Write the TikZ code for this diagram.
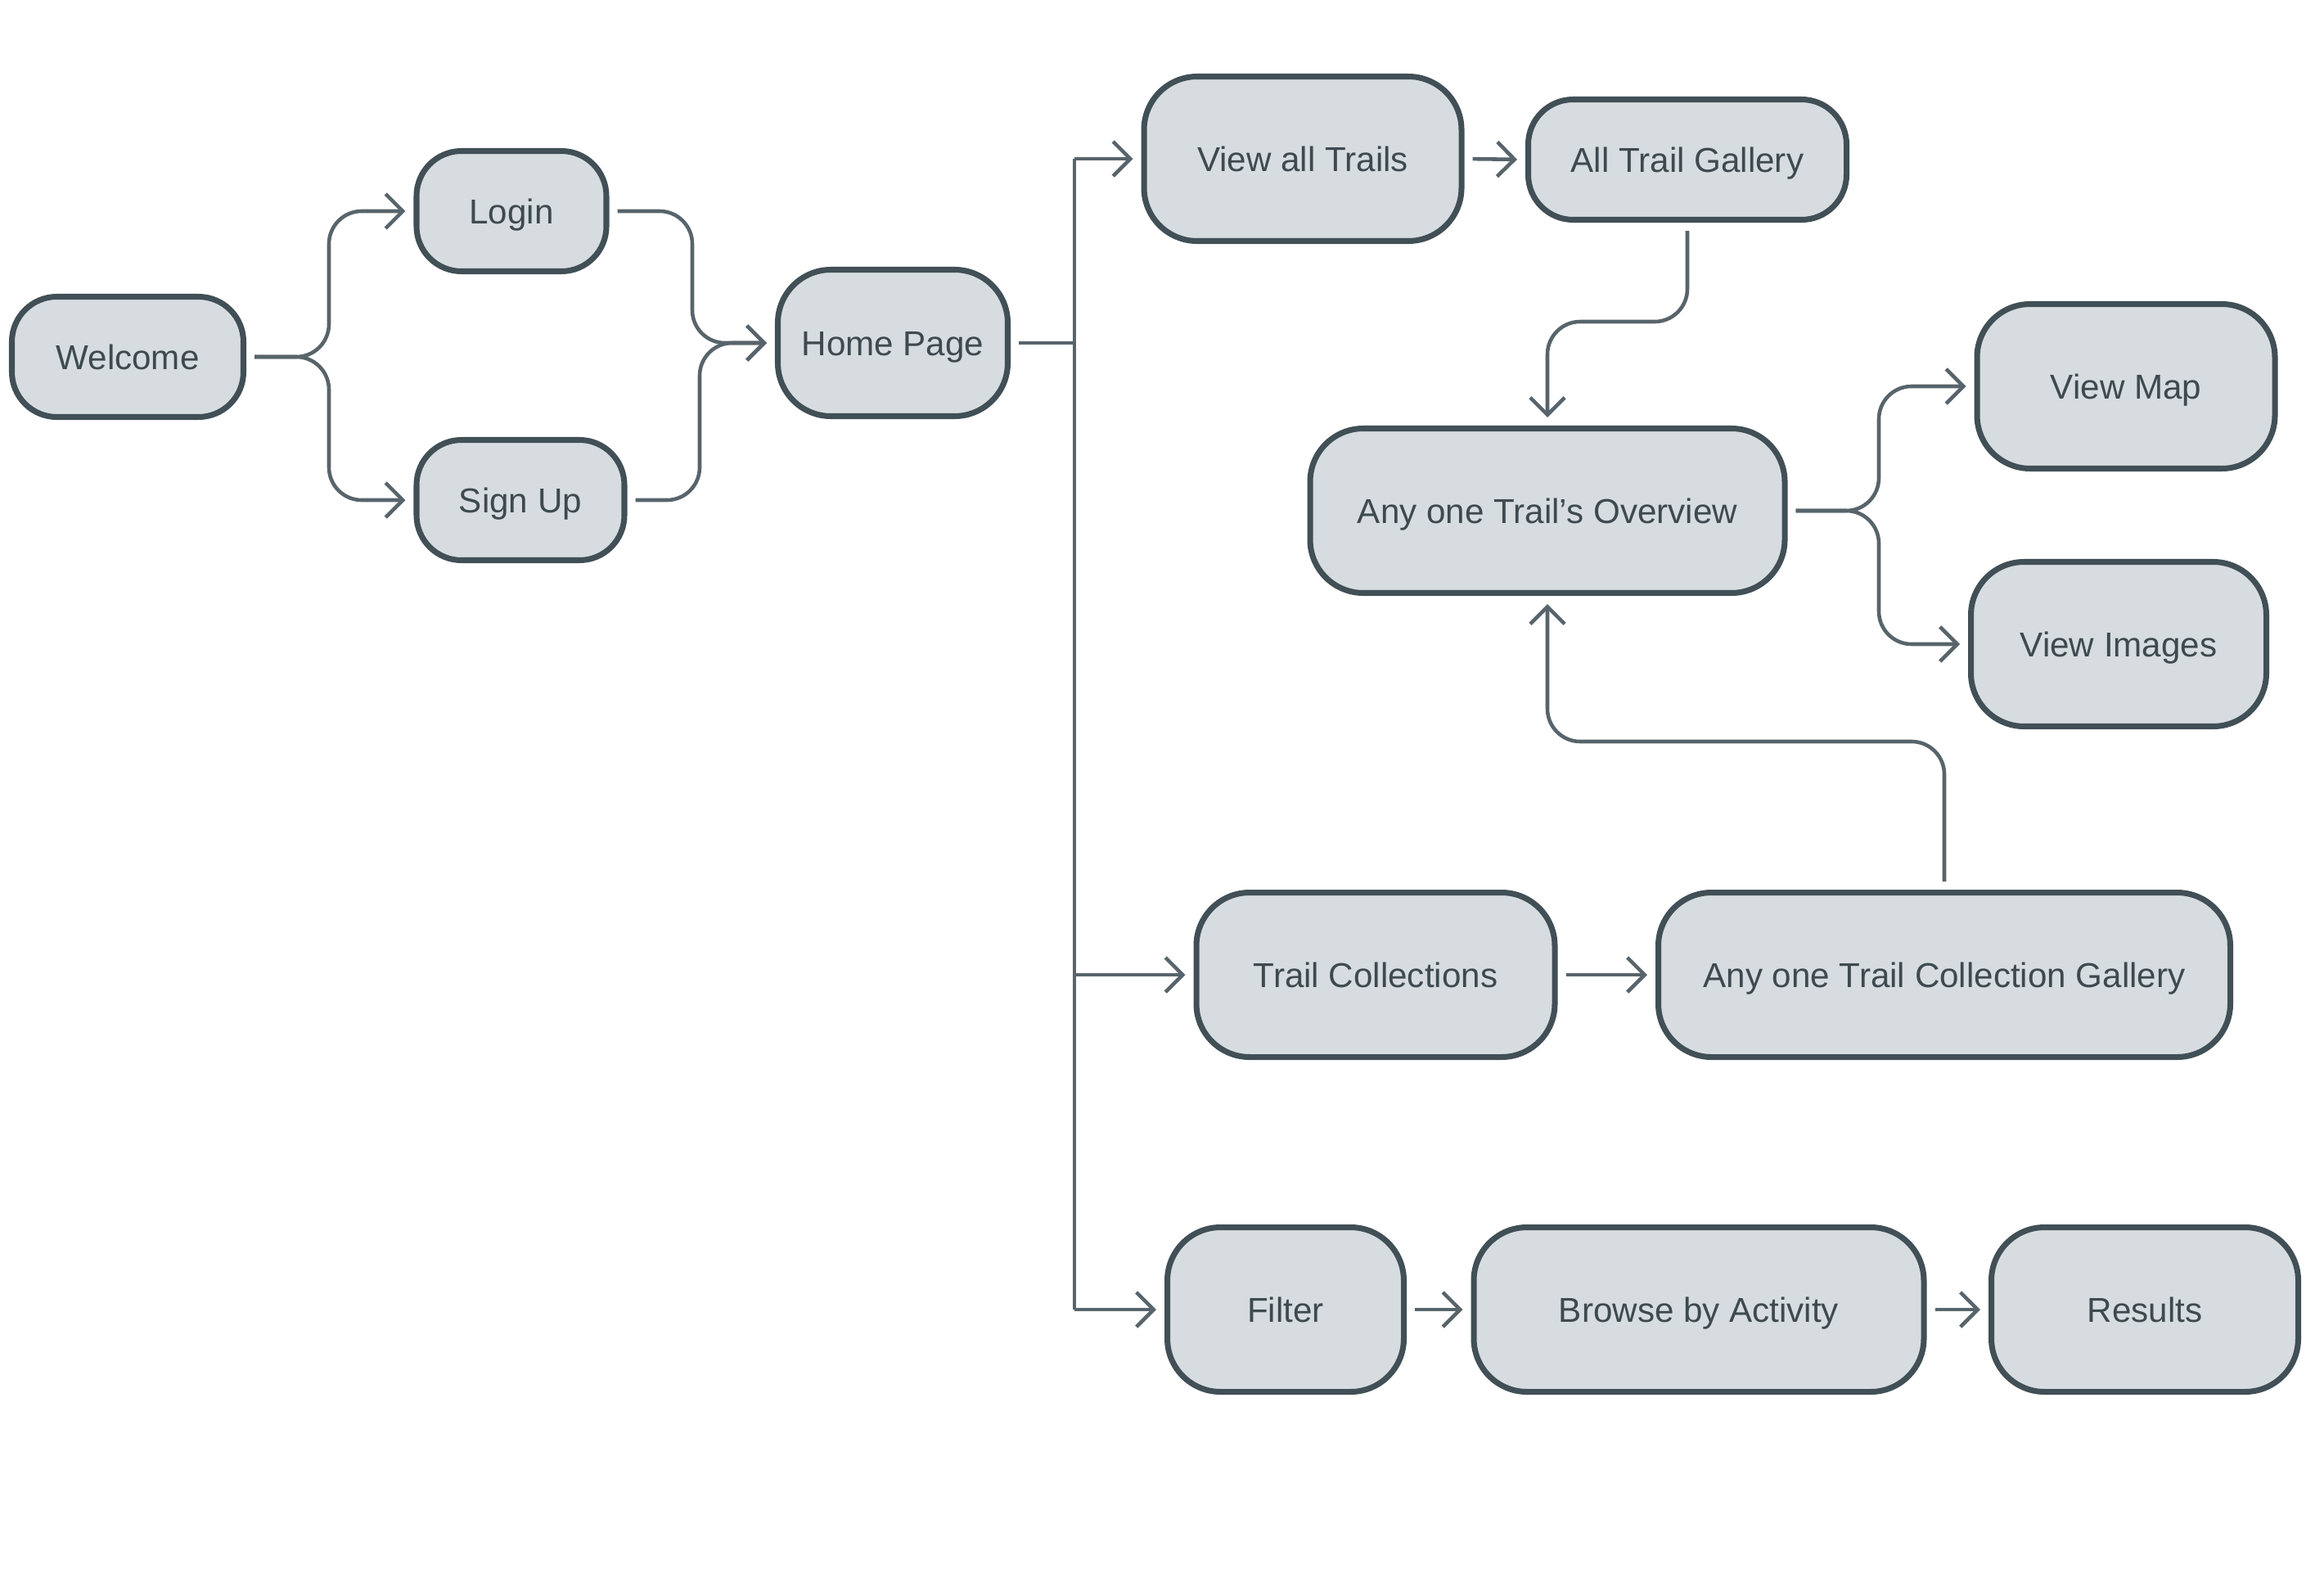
\documentclass[tikz,border=0pt]{standalone}
\usepackage{fontspec}
\setmainfont{Liberation Sans}
\usepackage{xcolor}
\usetikzlibrary{arrows.meta}
\definecolor{fgbox}{HTML}{D6DCDF}
\definecolor{fgedge}{HTML}{414F56}
\definecolor{fgline}{HTML}{58646B}
\definecolor{fgtext}{HTML}{3E4A50}

\begin{document}
\begin{tikzpicture}[
        box/.style={
            rectangle,
            draw=fgedge,
            fill=fgbox,
            line width=2pt,
            text=fgtext,
            rounded corners=0.65cm,
            font=\fontsize{12}{14}\selectfont,
            inner sep=0pt,
            text height=8.6pt,
            text depth=0pt,
            minimum height=2.01cm
        },
        small/.style={
            minimum height=1.47cm,
            rounded corners=0.55cm
        },
        link/.style={
            draw=fgline,
            line width=1.3pt,
            rounded corners=0.4cm,
            shorten <=0.1cm,
            shorten >=0.1cm,
            -{Straight Barb[length=6pt,width=12pt]}
        },
        branch/.style={
            link,
            shorten <=0pt
        },
        trunkline/.style={
            draw=fgline,
            line width=1.3pt
        }
    ]
        \useasboundingbox (0,0) rectangle (28.4,-19.28);

        % start
        \node[box, small, minimum width=2.83cm] (welcome) at (1.56,-4.36) {Welcome};
        \node[box, small, minimum width=2.32cm] (login) at (6.25,-2.58) {Login};
        \node[box, small, minimum width=2.54cm] (signup) at (6.36,-6.11) {Sign Up};
        \node[box, minimum width=2.81cm, minimum height=1.79cm] (home) at (10.91,-4.19) {Home Page};

        % trails
        \node[box, minimum width=3.88cm] (viewall) at (15.92,-1.94) {View all Trails};
        \node[box, small, minimum width=3.89cm] (gallery) at (20.62,-1.95) {All Trail Gallery};
        \node[box, minimum width=5.80cm] (overview) at (18.91,-6.24) {Any one Trail’s Overview};
        \node[box, minimum width=3.64cm] (viewmap) at (25.98,-4.72) {View Map};
        \node[box, minimum width=3.61cm] (viewimages) at (25.89,-7.87) {View Images};

        % collections
        \node[box, minimum width=4.38cm] (collections) at (16.81,-11.91) {Trail Collections};
        \node[box, minimum width=6.99cm] (collgallery) at (23.76,-11.91) {Any one Trail Collection Gallery};

        % filter
        \node[box, minimum width=2.89cm] (filter) at (15.71,-16.00) {Filter};
        \node[box, minimum width=5.50cm] (browse) at (20.76,-16.00) {Browse by Activity};
        \node[box, minimum width=3.75cm] (results) at (26.21,-16.00) {Results};

        % bends
        \coordinate (split) at (4.02,-4.36);
        \coordinate (joinA) at (8.46,-4.19);
        \coordinate (joinB) at (8.55,-4.19);
        \coordinate (trunk) at (13.13,0);
        \coordinate (hopA) at (19.8,-3.93);
        \coordinate (forkB) at (22.96,-6.24);
        \coordinate (hopB) at (21.0,-9.06);

        \draw[link] (welcome.east) -- (split) |- (login.west);
        \draw[link] (welcome.east) -- (split) |- (signup.west);
        \draw[link] (login.east) -| (joinA) -- (home.west);
        \draw[link] (signup.east) -| (joinB) -- (home.west);

        \draw[trunkline, shorten <=0.1cm] (home.east) -- (home.east -| trunk);
        \draw[trunkline] (viewall.west -| trunk) -- (filter.west -| trunk);
        \draw[branch] (viewall.west -| trunk) -- (viewall.west);
        \draw[branch] (collections.west -| trunk) -- (collections.west);
        \draw[branch] (filter.west -| trunk) -- (filter.west);

        \draw[link] (viewall.east) -- (gallery.west);
        \draw[link] (gallery.south) |- (hopA) -| (overview.north);
        \draw[link] (overview.east) -- (forkB) |- (viewmap.west);
        \draw[link] (overview.east) -- (forkB) |- (viewimages.west);
        \draw[link] (collgallery.north) |- (hopB) -| (overview.south);

        \draw[link] (collections.east) -- (collgallery.west);
        \draw[link] (filter.east) -- (browse.west);
        \draw[link] (browse.east) -- (results.west);
    \end{tikzpicture}
\end{document}
